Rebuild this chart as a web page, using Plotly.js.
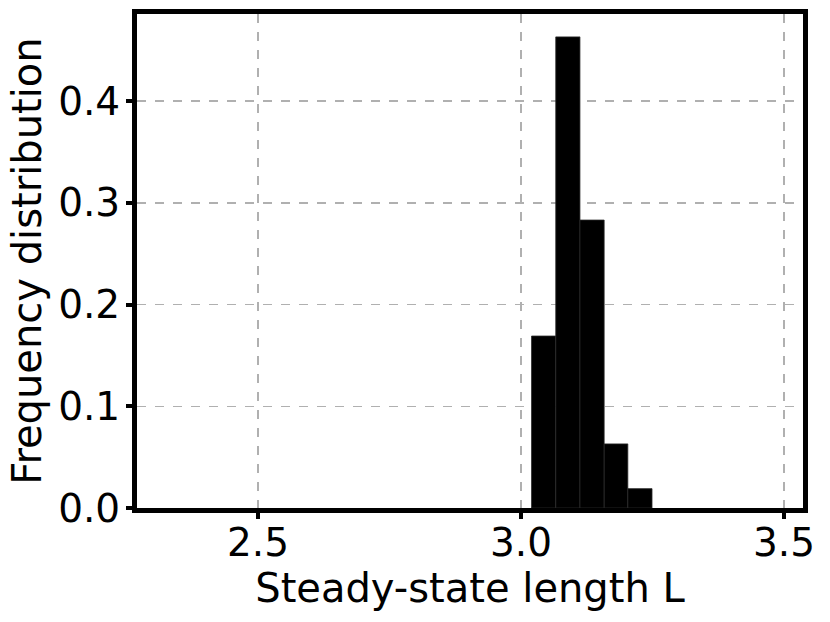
<!DOCTYPE html>
<html>
<head>
<meta charset="utf-8">
<script src="https://cdn.plot.ly/plotly-3.0.1.min.js"></script>
<style>html,body{margin:0;padding:0;background:#fff;}#chart{width:830px;height:622px;}</style>
</head>
<body>
<div id="chart"></div>
<script>
// Histogram bin edges (Steady-state length L) and normalized frequencies
const binEdges = [3.020, 3.066, 3.112, 3.158, 3.203, 3.249];
const frequencies = [0.169, 0.463, 0.283, 0.063, 0.019];
const xTickVals = [2.5, 3.0, 3.5];
const xTickText = ["2.5", "3.0", "3.5"];
const yTickVals = [0.0, 0.1, 0.2, 0.3, 0.4];
const yTickText = ["0.0", "0.1", "0.2", "0.3", "0.4"];

const centers = frequencies.map((_, i) => (binEdges[i] + binEdges[i + 1]) / 2);
const widths = frequencies.map((_, i) => binEdges[i + 1] - binEdges[i]);

const font = "DejaVu Sans, sans-serif";
const trace = {
  type: "bar",
  x: centers,
  y: frequencies,
  width: widths,
  marker: { color: "#000000", line: { color: "rgb(40,40,40)", width: 0.8 } },
  hoverinfo: "skip"
};

const axisCommon = {
  showline: true, linecolor: "#000", linewidth: 5, mirror: true,
  ticks: "outside", ticklen: 6, tickwidth: 4, tickcolor: "#000",
  showgrid: true, gridcolor: "#b0b0b0", gridwidth: 1.5, griddash: "dash",
  zeroline: false,
  tickfont: { family: font, size: 39, color: "#000" }
};

const layout = {
  width: 830, height: 622,
  margin: { l: 137, r: 27, t: 14, b: 114 },
  paper_bgcolor: "#fff", plot_bgcolor: "#fff",
  showlegend: false,
  bargap: 0,
  xaxis: Object.assign({}, axisCommon, {
    range: [2.270, 3.536],
    ticklabelstandoff: -10,
    tickmode: "array", tickvals: xTickVals, ticktext: xTickText,
    title: { text: "Steady-state length L", font: { family: font, size: 40, color: "#000" }, standoff: 0 }
  }),
  yaxis: Object.assign({}, axisCommon, {
    range: [0, 0.4855],
    ticklabelstandoff: -2,
    tickmode: "array", tickvals: yTickVals, ticktext: yTickText,
    title: { text: "Frequency distribution", font: { family: font, size: 40, color: "#000" }, standoff: 6 }
  })
};

Plotly.newPlot("chart", [trace], layout, { displayModeBar: false, staticPlot: true });
</script>
</body>
</html>
